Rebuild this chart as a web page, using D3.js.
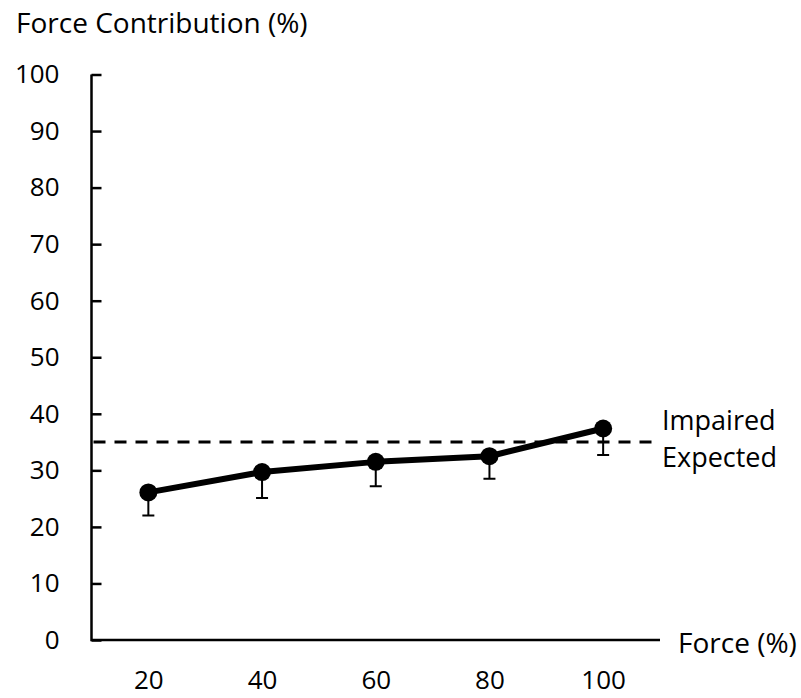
<!DOCTYPE html>
<html>
<head>
<meta charset="utf-8">
<script src="https://cdn.jsdelivr.net/npm/d3@7"></script>
<style>
  body { margin: 0; background: #fff; }
  text { font-family: "Open Sans", Lato, sans-serif; fill: #000; }
</style>
</head>
<body>
<div id="chart"></div>
<script>
// chart values
const forceLevels = ['20', '40', '60', '80', '100'];
const contribution = [26.1, 29.7, 31.5, 32.5, 37.4];
const errLow = [4.1, 4.6, 4.3, 4.0, 4.7];
const yTicks = [0, 10, 20, 30, 40, 50, 60, 70, 80, 90, 100];
const expectedLevel = 35;
const refLabels = ['Impaired', 'Expected'];

const width = 801, height = 698;
const margin = { top: 74.5, right: 141, bottom: 58, left: 91.5 };

const svg = d3.select('#chart').append('svg')
    .attr('width', width)
    .attr('height', height);

const x = d3.scalePoint()
    .domain(forceLevels)
    .range([margin.left, width - margin.right])
    .padding(0.5);

const y = d3.scaleLinear()
    .domain([0, 100])
    .range([height - margin.bottom, margin.top]);

// y axis with inward ticks
const yAxis = d3.axisLeft(y)
    .tickValues(yTicks)
    .tickSize(-10)
    .tickPadding(32);

const gy = svg.append('g')
    .attr('transform', `translate(${margin.left},0)`)
    .call(yAxis);
gy.select('.domain').remove();
gy.selectAll('.tick line').attr('stroke', '#000').attr('stroke-width', 2.5);
gy.selectAll('.tick text').style('font-size', '26px');

// x axis: no ticks, labels below
const xAxis = d3.axisBottom(x).tickSize(0).tickPadding(31);
const gx = svg.append('g')
    .attr('transform', `translate(0,${y(0)})`)
    .call(xAxis);
gx.select('.domain').remove();
gx.selectAll('.tick text').style('font-size', '26px');

// axis lines
svg.append('path')
    .attr('d', `M${margin.left},${y(100)}V${y(0)}H${width - margin.right}`)
    .attr('fill', 'none')
    .attr('stroke', '#000')
    .attr('stroke-width', 2.5);

// expected dashed line
svg.append('line')
    .attr('x1', margin.left + 2)
    .attr('x2', width - margin.right - 2)
    .attr('y1', y(expectedLevel))
    .attr('y2', y(expectedLevel))
    .attr('stroke', '#000')
    .attr('stroke-width', 3)
    .attr('stroke-dasharray', '12,9');

svg.selectAll('.ref-label')
    .data(refLabels)
    .join('text')
    .attr('class', 'ref-label')
    .attr('x', 662)
    .attr('y', (d, i) => y(expectedLevel) - 12 + i * 37)
    .style('font-size', '27px')
    .text(d => d);

const pts = forceLevels.map((f, i) => ({ f, v: contribution[i], e: errLow[i] }));

// error bars (lower only)
svg.append('g').selectAll('.err')
    .data(pts)
    .join('path')
    .attr('d', d => {
        const cx = x(d.f);
        return `M${cx},${y(d.v)}V${y(d.v - d.e)}M${cx - 6},${y(d.v - d.e)}H${cx + 6}`;
    })
    .attr('stroke', '#000')
    .attr('stroke-width', 2)
    .attr('fill', 'none');

// line
const line = d3.line().x(d => x(d.f)).y(d => y(d.v));
svg.append('path')
    .datum(pts)
    .attr('d', line)
    .attr('fill', 'none')
    .attr('stroke', '#000')
    .attr('stroke-width', 6)
    .attr('stroke-linejoin', 'round');

svg.selectAll('.dot')
    .data(pts)
    .join('circle')
    .attr('cx', d => x(d.f))
    .attr('cy', d => y(d.v))
    .attr('r', 9)
    .attr('fill', '#000');

// axis titles
svg.append('text')
    .attr('x', 16)
    .attr('y', 33)
    .style('font-size', '28px')
    .text('Force Contribution (%)');

svg.append('text')
    .attr('x', 678)
    .attr('y', 653)
    .style('font-size', '28px')
    .text('Force (%)');
</script>
</body>
</html>
